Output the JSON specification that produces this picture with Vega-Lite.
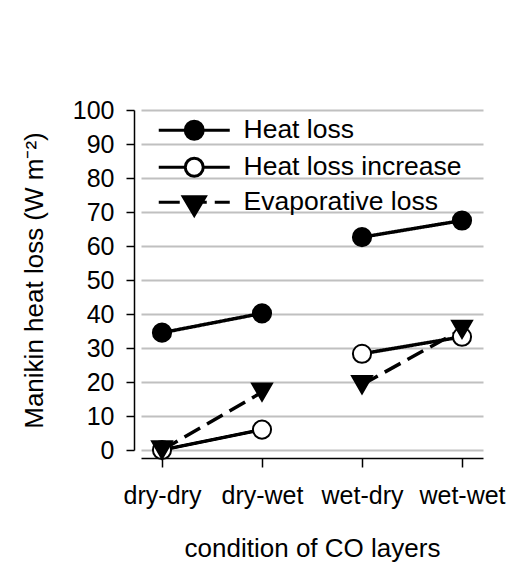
{
  "$schema": "https://vega.github.io/schema/vega-lite/v6.json",
  "width": 342,
  "height": 340,
  "autosize": "none",
  "padding": {"left": 141, "top": 110, "right": 40, "bottom": 113},
  "background": "white",
  "config": {
    "view": {"stroke": null},
    "font": "Liberation Sans",
    "axis": {"labelFont": "Liberation Sans", "titleFont": "Liberation Sans", "labelColor": "black", "titleColor": "black", "titleFontWeight": "normal", "domainColor": "black", "tickColor": "black"},
    "legend": {
      "orient": "top-left",
      "offset": 5,
      "padding": 2,
      "labelFontSize": 26.5,
      "labelFont": "Liberation Sans",
      "labelColor": "black",
      "labelLimit": 400,
      "symbolSize": 400,
      "symbolStrokeWidth": 3,
      "labelOffset": 36,
      "rowPadding": 6,
      "symbolOffset": 33
    }
  },
  "data": {
    "values": [
      {"cond": "dry-dry", "pair": "dry", "series": "Heat loss", "value": 34.5},
      {"cond": "dry-wet", "pair": "dry", "series": "Heat loss", "value": 40.2},
      {"cond": "wet-dry", "pair": "wet", "series": "Heat loss", "value": 62.6},
      {"cond": "wet-wet", "pair": "wet", "series": "Heat loss", "value": 67.5},
      {"cond": "dry-dry", "pair": "dry", "series": "Heat loss increase", "value": 0},
      {"cond": "dry-wet", "pair": "dry", "series": "Heat loss increase", "value": 6.0},
      {"cond": "wet-dry", "pair": "wet", "series": "Heat loss increase", "value": 28.3},
      {"cond": "wet-wet", "pair": "wet", "series": "Heat loss increase", "value": 33.3},
      {"cond": "dry-dry", "pair": "dry", "series": "Evaporative loss", "value": 0},
      {"cond": "dry-wet", "pair": "dry", "series": "Evaporative loss", "value": 17},
      {"cond": "wet-dry", "pair": "wet", "series": "Evaporative loss", "value": 19.2},
      {"cond": "wet-wet", "pair": "wet", "series": "Evaporative loss", "value": 35.5}
    ]
  },
  "encoding": {
    "x": {
      "field": "cond", "type": "ordinal",
      "sort": ["dry-dry", "dry-wet", "wet-dry", "wet-wet"],
      "scale": {"type": "point", "padding": 0.21},
      "axis": {"title": "condition of CO layers", "labelAngle": 0, "labelFontSize": 25, "titleFontSize": 26, "labelPadding": 16, "titlePadding": 27, "tickSize": 9, "offset": 8, "domainWidth": 1.5, "tickWidth": 1.5, "grid": false}
    },
    "y": {
      "field": "value", "type": "quantitative",
      "scale": {"domain": [0, 100], "nice": false},
      "axis": {"title": "Manikin heat loss (W m⁻²)", "values": [0, 10, 20, 30, 40, 50, 60, 70, 80, 90, 100], "labelFontSize": 25, "titleFontSize": 26, "labelPadding": 12, "titlePadding": 25, "tickSize": 8, "offset": 7, "domainWidth": 1.5, "tickWidth": 1.5, "grid": true, "gridColor": "#c0c0c0", "gridWidth": 2}
    }
  },
  "layer": [
    {
      "transform": [{"filter": "datum.value < 0"}],
      "mark": {"type": "point", "filled": true, "stroke": "black", "strokeWidth": 3, "opacity": 1},
      "encoding": {
        "shape": {
          "field": "series", "type": "nominal",
          "scale": {"domain": ["Heat loss", "Heat loss increase", "Evaporative loss"], "range": [
            "M-3.55,0L-0.9,0M0.9,0L3.55,0M-0.9,0A0.9,0.9,0,1,0,0.9,0A0.9,0.9,0,1,0,-0.9,0Z",
            "M-3.55,0L-0.9,0M0.9,0L3.55,0M-0.9,0A0.9,0.9,0,1,0,0.9,0A0.9,0.9,0,1,0,-0.9,0Z",
            "M-3.55,0L-1.45,0M-0.7,0L1.25,0M2.05,0L3.55,0M-1.1,-0.55L1.1,-0.55L0,1.3Z"
          ]},
          "legend": {"title": null}
        },
        "fill": {
          "field": "series", "type": "nominal",
          "scale": {"domain": ["Heat loss", "Heat loss increase", "Evaporative loss"], "range": ["black", "white", "black"]},
          "legend": {"title": null}
        },
        "stroke": {
          "field": "series", "type": "nominal",
          "scale": {"domain": ["Heat loss", "Heat loss increase", "Evaporative loss"], "range": ["black", "black", "black"]},
          "legend": {"title": null}
        }
      }
    },
    {
      "mark": {"type": "line", "color": "black", "strokeWidth": 3.5},
      "encoding": {
        "detail": [{"field": "pair"}, {"field": "series"}],
        "strokeDash": {"condition": {"test": "datum.series === 'Evaporative loss'", "value": [18, 8]}, "value": [1, 0]}
      }
    },
    {
      "mark": {"type": "point", "filled": true, "stroke": "black", "strokeWidth": 2, "opacity": 1},
      "encoding": {
        "shape": {"condition": {"test": "datum.series === 'Evaporative loss'", "value": "triangle-down"}, "value": "circle"},
        "fill": {"condition": {"test": "datum.series === 'Heat loss increase'", "value": "white"}, "value": "black"},
        "size": {"condition": {"test": "datum.series === 'Evaporative loss'", "value": 400}, "value": 330}
      }
    }
  ]
}
